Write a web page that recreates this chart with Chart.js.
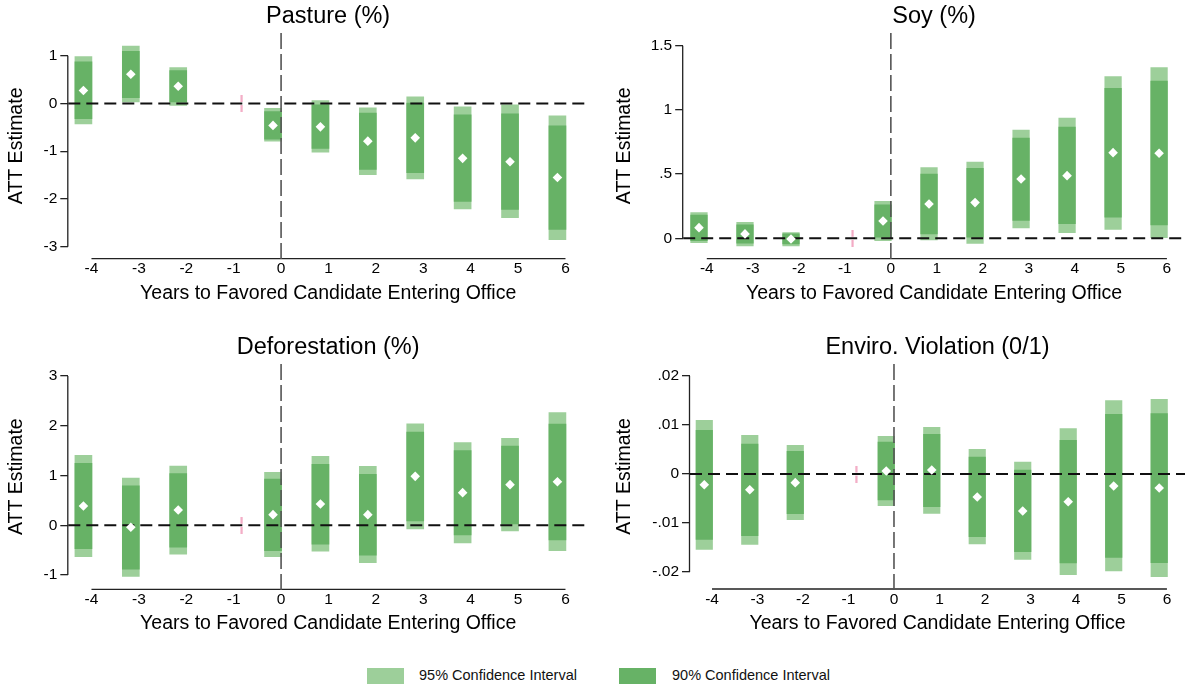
<!DOCTYPE html>
<html><head><meta charset="utf-8">
<script src="https://cdn.jsdelivr.net/npm/chart.js@4.4.1/dist/chart.umd.min.js"></script>
<style>
html,body{margin:0;padding:0;background:#fff;}
#wrap{position:relative;width:1191px;height:691px;overflow:hidden;font-family:'Liberation Sans',Arial,sans-serif;}
canvas{position:absolute;}
.box{position:absolute;width:37px;height:16px;}
.lt{position:absolute;font-size:14.5px;color:#111;line-height:16px;white-space:nowrap;}
</style></head><body>
<div id="wrap">
<canvas id="c0" width="595" height="330" style="left:0;top:0"></canvas>
<canvas id="c1" width="596" height="330" style="left:595px;top:0"></canvas>
<canvas id="c2" width="595" height="330" style="left:0;top:330px"></canvas>
<canvas id="c3" width="596" height="330" style="left:595px;top:330px"></canvas>
<div class="box" id="lb95" style="left:367px;top:668px"></div>
<div class="lt" style="left:419px;top:667px">95% Confidence Interval</div>
<div class="box" id="lb90" style="left:619px;top:668px"></div>
<div class="lt" style="left:672px;top:667px">90% Confidence Interval</div>
</div>
<script>
// ---------- data ----------
const years = [-4, -3, -2, 0, 1, 2, 3, 4, 5, 6];
const xTickValues = [-4, -3, -2, -1, 0, 1, 2, 3, 4, 5, 6];
const referenceYear = -1;

const pastureEst  = [0.27, 0.61, 0.36, -0.46, -0.49, -0.79, -0.72, -1.15, -1.22, -1.55];
const pastureLo90 = [-0.32, 0.12, 0.03, -0.75, -0.94, -1.38, -1.45, -2.05, -2.22, -2.64];
const pastureHi90 = [0.87, 1.09, 0.69, -0.17, -0.03, -0.20, 0.01, -0.24, -0.22, -0.47];
const pastureLo95 = [-0.43, 0.03, -0.04, -0.79, -1.02, -1.49, -1.58, -2.21, -2.39, -2.85];
const pastureHi95 = [0.98, 1.20, 0.75, -0.10, 0.06, -0.09, 0.14, -0.07, -0.03, -0.26];

const soyEst  = [0.083, 0.034, -0.005, 0.135, 0.267, 0.278, 0.462, 0.488, 0.667, 0.662];
const soyLo90 = [-0.018, -0.039, -0.044, 0.008, 0.034, 0.008, 0.14, 0.114, 0.164, 0.104];
const soyHi90 = [0.18, 0.104, 0.034, 0.26, 0.50, 0.545, 0.78, 0.867, 1.168, 1.225];
const soyLo95 = [-0.034, -0.06, -0.06, -0.018, -0.013, -0.04, 0.08, 0.044, 0.07, 0.0];
const soyHi95 = [0.20, 0.125, 0.044, 0.288, 0.55, 0.594, 0.843, 0.937, 1.26, 1.33];

const deforEst  = [0.387, -0.04, 0.306, 0.213, 0.427, 0.213, 0.983, 0.655, 0.816, 0.876];
const deforLo90 = [-0.47, -0.88, -0.44, -0.51, -0.38, -0.60, 0.085, -0.196, 0.025, -0.296];
const deforHi90 = [1.245, 0.79, 1.04, 0.93, 1.225, 1.025, 1.875, 1.50, 1.593, 2.035];
const deforLo95 = [-0.63, -1.03, -0.58, -0.63, -0.52, -0.75, -0.075, -0.357, -0.116, -0.51];
const deforHi95 = [1.405, 0.95, 1.19, 1.065, 1.385, 1.185, 2.04, 1.66, 1.747, 2.263];

const violEst  = [-0.00218, -0.0032, -0.00177, 0.00061, 0.00082, -0.00469, -0.00755, -0.00565, -0.00245, -0.00286];
const violLo90 = [-0.01333, -0.01259, -0.0081, -0.0053, -0.00667, -0.01279, -0.01585, -0.01816, -0.01701, -0.0181];
const violHi90 = [0.0089, 0.00612, 0.00463, 0.00653, 0.0081, 0.00347, 0.00082, 0.00687, 0.01218, 0.01231];
const violLo95 = [-0.01537, -0.01435, -0.00932, -0.00646, -0.00803, -0.01429, -0.01741, -0.02054, -0.0198, -0.02095];
const violHi95 = [0.01095, 0.00789, 0.00585, 0.00769, 0.00952, 0.00503, 0.00245, 0.00925, 0.01497, 0.01524];

const pastureTicks = [-3, -2, -1, 0, 1];
const pastureTickLabels = ['-3', '-2', '-1', '0', '1'];
const soyTicks = [0, 0.5, 1, 1.5];
const soyTickLabels = ['0', '.5', '1', '1.5'];
const deforTicks = [-1, 0, 1, 2, 3];
const deforTickLabels = ['-1', '0', '1', '2', '3'];
const violTicks = [-0.02, -0.01, 0, 0.01, 0.02];
const violTickLabels = ['-.02', '-.01', '0', '.01', '.02'];

const titles = ['Pasture (%)', 'Soy (%)', 'Deforestation (%)', 'Enviro. Violation (0/1)'];
const xTitle = 'Years to Favored Candidate Entering Office';
const yTitle = 'ATT Estimate';
const legendLabels = ['95% Confidence Interval', '90% Confidence Interval'];

// ---------- style ----------
const C95 = '#9dcf9a';
const C90 = '#67b266';
const estOffset = -0.17;   // horizontal shift of the estimates relative to the year
const refOffset = 0.17;    // horizontal shift of the reference-period marker
const FONT = "'Liberation Sans', Arial, sans-serif";
document.getElementById('lb95').style.background = C95;
document.getElementById('lb90').style.background = C90;

Chart.defaults.font.family = FONT;
Chart.defaults.color = '#000';

function makeRefMark() {
  const c = document.createElement('canvas');
  c.width = 3; c.height = 17;
  const g = c.getContext('2d');
  g.fillStyle = '#f2a3bf';
  g.fillRect(0.5, 0, 2, 7);
  g.fillRect(0.5, 10, 2, 7);
  return c;
}
const refMark = makeRefMark();

const linesPlugin = {
  id: 'stataLines',
  beforeDatasetsDraw(chart) {
    const {ctx, chartArea: a, scales: {x, y}} = chart;
    const yt = chart.options.plugins.stataLines.yTicks;
    ctx.save();
    ctx.strokeStyle = '#222';
    ctx.lineWidth = 1.3;
    ctx.beginPath();
    ctx.moveTo(a.left - 0.5, y.getPixelForValue(yt[0]));
    ctx.lineTo(a.left - 0.5, y.getPixelForValue(yt[yt.length - 1]));
    ctx.moveTo(x.getPixelForValue(xTickValues[0]), a.bottom);
    ctx.lineTo(x.getPixelForValue(xTickValues[xTickValues.length - 1]), a.bottom);
    ctx.stroke();
    ctx.restore();
  },
  beforeDatasetDraw(chart, args) {
    if (chart.data.datasets[args.index].label !== 'Reference period') return;
    const {ctx, chartArea: a, scales: {x, y}} = chart;
    ctx.save();
    // vertical line at year 0
    const x0 = x.getPixelForValue(0);
    ctx.strokeStyle = '#555';
    ctx.lineWidth = 1.6;
    ctx.setLineDash([16, 5]);
    ctx.beginPath();
    ctx.moveTo(x0, a.top);
    ctx.lineTo(x0, a.bottom + 4);
    ctx.stroke();
    // horizontal line at 0
    const y0 = y.getPixelForValue(0);
    ctx.strokeStyle = '#111';
    ctx.lineWidth = 2;
    ctx.setLineDash([12, 6]);
    ctx.beginPath();
    ctx.moveTo(a.left, y0);
    ctx.lineTo(a.right, y0);
    ctx.stroke();
    ctx.restore();
  }
};

const panels = [
  {id: 'c0', title: titles[0], est: pastureEst, lo90: pastureLo90, hi90: pastureHi90, lo95: pastureLo95, hi95: pastureHi95,
   yTicks: pastureTicks, yLabels: pastureTickLabels,
   yMin: -3.251, yMax: 1.475, xMin: -4.489, xMax: 6.475,
   yAxisW: 68.3, xAxisH: 71.3, titleH: 33, titleC: 16.5, yTitleX: 16.7, padRight: 7, barW: 17},
  {id: 'c1', title: titles[1], est: soyEst, lo90: soyLo90, hi90: soyHi90, lo95: soyLo95, hi95: soyHi95,
   yTicks: soyTicks, yLabels: soyTickLabels,
   yMin: -0.159, yMax: 1.599, xMin: -4.513, xMax: 6.393,
   yAxisW: 88.2, xAxisH: 71.3, titleH: 33, titleC: 16.5, yTitleX: 30, padRight: 0, barW: 16.6},
  {id: 'c2', title: titles[2], est: deforEst, lo90: deforLo90, hi90: deforHi90, lo95: deforLo95, hi95: deforHi95,
   yTicks: deforTicks, yLabels: deforTickLabels,
   yMin: -1.287, yMax: 3.241, xMin: -4.489, xMax: 6.475,
   yAxisW: 68.3, xAxisH: 70.7, titleH: 34, titleC: 17.5, yTitleX: 17, padRight: 7, barW: 17},
  {id: 'c3', title: titles[3], est: violEst, lo90: violLo90, hi90: violHi90, lo95: violLo95, hi95: violHi95,
   yTicks: violTicks, yLabels: violTickLabels,
   yMin: -0.02347, yMax: 0.02245, xMin: -4.484, xMax: 6.397,
   yAxisW: 95, xAxisH: 71, titleH: 34, titleC: 17.5, yTitleX: 30, padRight: 0, barW: 16.5}
];

function makePanel(p) {
  const pts = years.map((yr, i) => ({x: yr + estOffset, y: p.est[i]}));
  const b90 = years.map((yr, i) => ({x: yr + estOffset, y: [p.lo90[i], p.hi90[i]]}));
  const b95 = years.map((yr, i) => ({x: yr + estOffset, y: [p.lo95[i], p.hi95[i]]}));
  const ref = [{x: referenceYear + refOffset, y: 0}];
  const tFont = 23.5, tLH = tFont * 1.2;
  const aFont = 19.5, aLH = aFont * 1.2;
  new Chart(document.getElementById(p.id), {
    type: 'bar',
    data: {datasets: [
      {type: 'scatter', label: 'Estimate', data: pts, pointStyle: 'rectRot', pointRadius: 4.8,
       backgroundColor: '#fff', borderWidth: 0, pointBorderWidth: 0, order: 0},
      {type: 'scatter', label: 'Reference period', data: ref, pointStyle: refMark, pointRadius: 5, order: 1},
      {type: 'bar', label: legendLabels[1], data: b90, backgroundColor: C90, borderWidth: 0,
       barThickness: p.barW, grouped: false, order: 2},
      {type: 'bar', label: legendLabels[0], data: b95, backgroundColor: C95, borderWidth: 0,
       barThickness: p.barW, grouped: false, order: 3}
    ]},
    options: {
      responsive: false, animation: false, events: [],
      layout: {padding: {left: 0, right: p.padRight, top: 0, bottom: 0}},
      plugins: {
        legend: {display: false}, tooltip: {enabled: false},
        title: {display: true, text: p.title, fullSize: false, color: '#000',
                font: {size: tFont, weight: 'normal', family: FONT},
                padding: {top: p.titleC - tLH / 2, bottom: p.titleH - tLH - (p.titleC - tLH / 2)}},
        stataLines: {yTicks: p.yTicks}
      },
      scales: {
        x: {type: 'linear', min: p.xMin, max: p.xMax, offset: false,
            grid: {display: false, drawTicks: false, tickLength: 0, offset: false}, border: {display: false},
            afterBuildTicks: s => { s.ticks = xTickValues.map(v => ({value: v})); },
            afterFit: s => { s.height = p.xAxisH; },
            ticks: {font: {size: 15.5}, color: '#000', padding: 1, maxRotation: 0, autoSkip: false,
                    callback: v => String(v)},
            title: {display: true, text: xTitle, color: '#000', font: {size: aFont},
                    padding: {top: 0, bottom: 330 - 293.3 - aLH / 2}}},
        y: {type: 'linear', min: p.yMin, max: p.yMax, beginAtZero: false,
            grid: {display: true, drawOnChartArea: false, drawTicks: true, tickLength: 8,
                   color: '#222', lineWidth: 1.3},
            border: {display: false},
            afterBuildTicks: s => { s.ticks = p.yTicks.map(v => ({value: v})); },
            afterFit: s => { s.width = p.yAxisW; },
            ticks: {font: {size: 15.5}, color: '#000', padding: 3, autoSkip: false,
                    callback: (v, i) => p.yLabels[i]},
            title: {display: true, text: yTitle, color: '#000', font: {size: aFont},
                    padding: {top: p.yTitleX - aLH / 2, bottom: 0}}}
      }
    },
    plugins: [linesPlugin]
  });
}
panels.forEach(makePanel);
</script>
</body></html>
